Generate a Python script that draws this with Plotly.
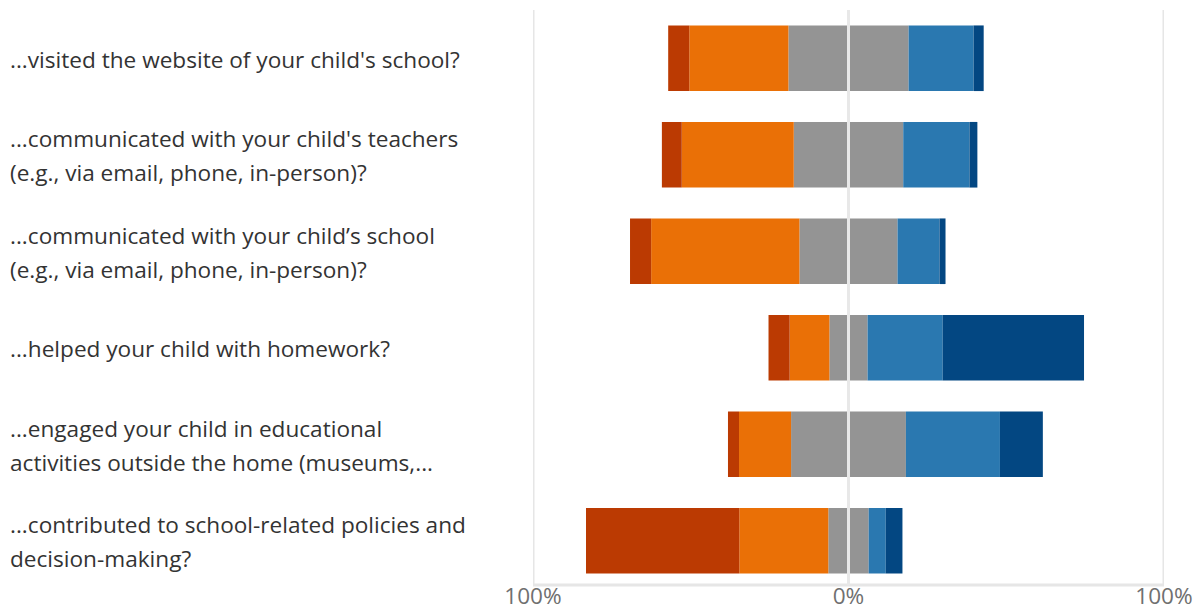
import plotly.graph_objects as go

questions = [
    "...visited the website of your child's school?",
    "...communicated with your child's teachers<br>(e.g., via email, phone, in-person)?",
    "...communicated with your child\u2019s school<br>(e.g., via email, phone, in-person)?",
    "...helped your child with homework?",
    "...engaged your child in educational<br>activities outside the home (museums,...",
    "...contributed to school-related policies and<br>decision-making?",
]
cat_ids = ["q1", "q2", "q3", "q4", "q5", "q6"]

never = [6.7, 6.3, 6.7, 6.7, 3.5, 48.6]
rarely = [31.4, 35.5, 47.0, 12.6, 16.5, 28.2]
sometimes = [38.1, 34.7, 31.1, 12.1, 36.4, 12.8]
often = [20.6, 21.0, 13.3, 23.8, 29.8, 5.4]
always = [3.2, 2.5, 1.9, 44.8, 13.6, 5.3]

tick_vals = [-100, 0, 100]
tick_text = ["100%", "0%", "100%"]

c_never = "#BB3A02"
c_rarely = "#EA7006"
c_neutral = "#949494"
c_often = "#2A78B0"
c_always = "#034782"

FONT = "Open Sans, Noto Sans, sans-serif"

fig = go.Figure()
common = dict(orientation="h", y=cat_ids, width=0.68, hoverinfo="skip", showlegend=False)
fig.add_trace(go.Bar(x=[-v / 2 for v in sometimes], marker=dict(color=c_neutral, line_width=0), **common))
fig.add_trace(go.Bar(x=[-v for v in rarely], marker=dict(color=c_rarely, line_width=0), **common))
fig.add_trace(go.Bar(x=[-v for v in never], marker=dict(color=c_never, line_width=0), **common))
fig.add_trace(go.Bar(x=[v / 2 for v in sometimes], marker=dict(color=c_neutral, line_width=0), **common))
fig.add_trace(go.Bar(x=often, marker=dict(color=c_often, line_width=0), **common))
fig.add_trace(go.Bar(x=always, marker=dict(color=c_always, line_width=0), **common))

L, R, T, B = 533, 36, 10, 26
plot_w = 1200 - L - R
plot_h = 615 - T - B
base_y = 4 / plot_h  # axis baseline slightly above the plot-area bottom

annotations = []
for cid, q in zip(cat_ids, questions):
    lines = q.split("<br>")
    n = len(lines)
    for i, line in enumerate(lines):
        shift = (n - 1) * 17 - i * 34 - 1
        annotations.append(dict(
            x=(8 - L) / plot_w, xref="paper", xanchor="left",
            y=cid, yref="y", yanchor="middle", yshift=shift,
            text=line, showarrow=False, align="left",
            font=dict(family=FONT, size=22.6, color="#333333"),
        ))

grid_color = "#e6e6e6"
shapes = []
for v in tick_vals:
    shapes.append(dict(type="line", xref="x", yref="paper", x0=v, x1=v, y0=base_y, y1=1,
                       line=dict(color="#e8e8e8" if v == 0 else grid_color, width=3),
                       layer="above" if v == 0 else "below"))
shapes.append(dict(type="line", xref="x", yref="paper", x0=tick_vals[0] - 0.25, x1=tick_vals[-1] + 0.25,
                   y0=base_y, y1=base_y, line=dict(color=grid_color, width=3), layer="below"))

fig.update_layout(
    width=1200, height=615,
    margin=dict(l=L, r=R, t=T, b=B, autoexpand=False),
    barmode="relative",
    plot_bgcolor="white", paper_bgcolor="white",
    annotations=annotations,
    shapes=shapes,
    xaxis=dict(range=[-100, 100], tickvals=tick_vals, ticktext=tick_text,
               showgrid=False, zeroline=False, showline=False,
               ticks="", ticklabelstandoff=-9,
               tickfont=dict(family=FONT, size=22.6, color="#707070"),
               automargin=False, fixedrange=True),
    yaxis=dict(categoryorder="array", categoryarray=cat_ids, autorange="reversed",
               showticklabels=False, showgrid=False, zeroline=False, showline=False,
               automargin=False, fixedrange=True),
)

fig.write_html("out.html", config={"displayModeBar": False},
               post_script="document.body.style.margin='0';document.body.style.overflow='hidden';")
